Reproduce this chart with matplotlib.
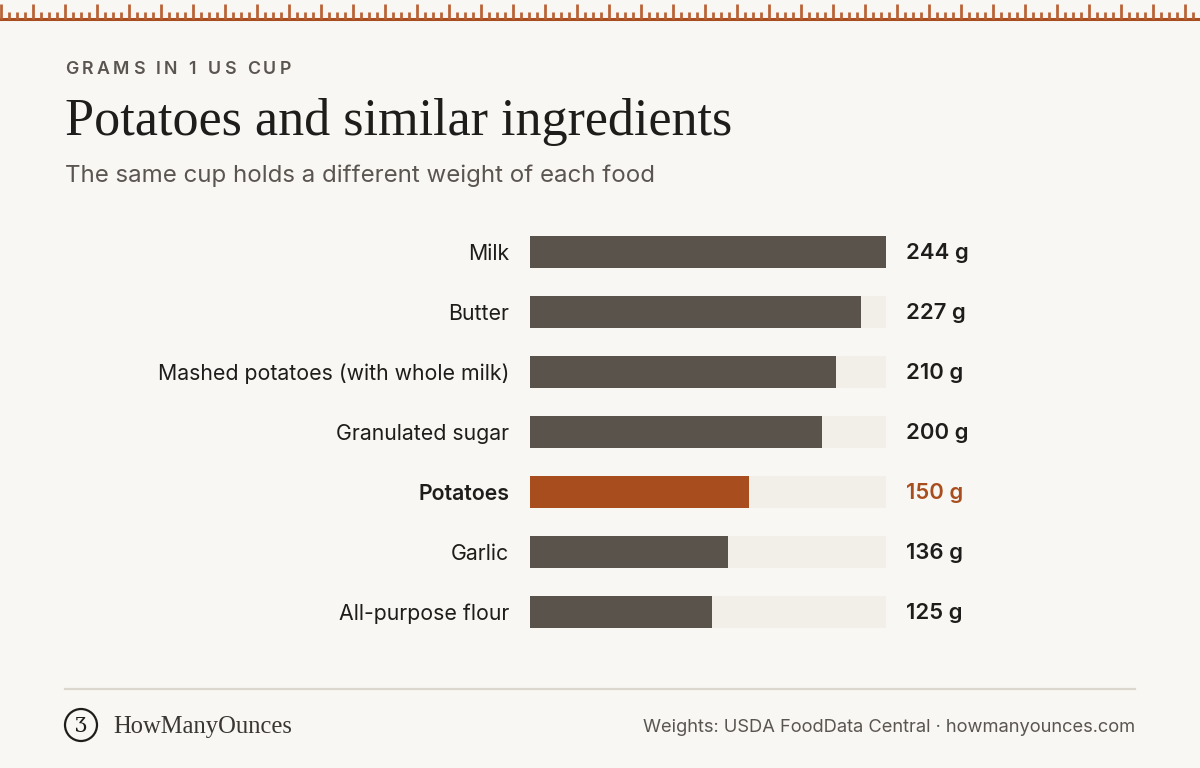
import matplotlib
matplotlib.use("Agg")
import matplotlib.pyplot as plt
from matplotlib.patches import Circle

# data
foods = ["Milk", "Butter", "Mashed potatoes (with whole milk)", "Granulated sugar",
         "Potatoes", "Garlic", "All-purpose flour"]
grams = [244, 227, 210, 200, 150, 136, 125]
highlight = "Potatoes"

kicker = "GRAMS IN 1 US CUP"
title = "Potatoes and similar ingredients"
subtitle = "The same cup holds a different weight of each food"
source = "Weights: USDA FoodData Central \u00b7 howmanyounces.com"
brand = "HowManyOunces"

BG = "#f9f7f3"
DARK = "#59534c"
TRACK = "#f2efe9"
ORANGE = "#a84e1e"
INK = "#1f1d1b"
GREY = "#5a5550"
RULE = "#dcd7ce"

SANS = ["Inter", "DejaVu Sans"]
SERIF = ["Liberation Serif", "DejaVu Serif"]

W, H = 1200, 768
fig = plt.figure(figsize=(W / 100, H / 100), dpi=100, facecolor=BG)

# full-figure overlay in pixel units for the page furniture
page = fig.add_axes([0, 0, 1, 1], zorder=0)
page.set_xlim(0, W)
page.set_ylim(H, 0)
page.axis("off")

# ruler along the top
page.axhline(19, color=ORANGE, lw=2.2)
for x in range(0, W + 1, 8):
    top = 4 if x % 32 == 0 else 12
    page.plot([x + 1, x + 1], [top, 19], color="#b8643a", lw=2, solid_capstyle="butt")

renderer = fig.canvas.get_renderer()


def fit(t, target):
    # scale the font so the text spans the target width in pixels
    w = t.get_window_extent(renderer).width
    t.set_fontsize(t.get_fontsize() * target / w)
    return t.get_fontsize()


# kicker with letter spacing
x = 65
for ch in kicker:
    t = page.text(x, 70, ch, fontsize=12.8, family=SANS, color=GREY,
                  fontweight="semibold", va="center", ha="left")
    x += t.get_window_extent(renderer).width + 3.4

t = page.text(65, 122, title, fontsize=40, family=SERIF, color=INK, va="center", ha="left")
fit(t, 666)
t = page.text(65, 176, subtitle, fontsize=17, family=SANS, color=GREY, va="center", ha="left")
fit(t, 591)

# footer
page.plot([65, 1135], [689, 689], color=RULE, lw=1.6)
page.add_patch(Circle((81, 725), 16, fill=False, ec=INK, lw=1.6))
page.text(81, 727, "\u01b7", fontsize=15, family=["DejaVu Serif"], color=INK,
          ha="center", va="center")
t = page.text(113, 727, brand, fontsize=17, family=SERIF, color="#3a3632",
              va="center", ha="left")
fit(t, 179)
t = page.text(1135, 727, source, fontsize=13, family=SANS, color=GREY,
              va="center", ha="right")
fit(t, 494)

# label size matched to the longest label
probe = page.text(0, 0, max(foods, key=len), fontsize=14, family=SANS)
label_size = fit(probe, 352)
probe.remove()

# bar chart
ax = fig.add_axes([530 / W, 126 / H, 356 / W, 420 / H], zorder=1)
ax.set_facecolor("none")
ax.set_xlim(0, max(grams))
ax.set_ylim(len(foods) - 0.5, -0.5)
ax.axis("off")

ys = range(len(foods))
ax.barh(ys, [max(grams)] * len(foods), height=32 / 60, color=TRACK, lw=0)
colors = [ORANGE if f == highlight else DARK for f in foods]
ax.barh(ys, grams, height=32 / 60, color=colors, lw=0)

for i, (f, g) in enumerate(zip(foods, grams)):
    hl = f == highlight
    ax.annotate(f, xy=(0, i), xycoords=("axes fraction", "data"),
                xytext=(-21, -2), textcoords="offset pixels", ha="right", va="center",
                fontsize=label_size, family=SANS, color=INK,
                fontweight="semibold" if hl else "normal")
    ax.annotate(f"{g} g", xy=(1, i), xycoords=("axes fraction", "data"),
                xytext=(20, -1), textcoords="offset pixels", ha="left", va="center",
                fontsize=15.9, family=SANS, color=ORANGE if hl else INK,
                fontweight="semibold")

fig.savefig("out.png", dpi=100, facecolor=BG)
